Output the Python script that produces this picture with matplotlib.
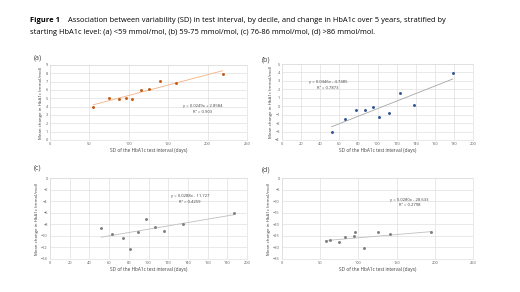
import numpy as np
import matplotlib
matplotlib.use("Agg")
import matplotlib.pyplot as plt

plt.rcParams['font.family'] = ['Open Sans', 'DejaVu Sans']

# panel (a) <59 mmol/mol
a_x = [55, 75, 87, 96, 104, 115, 125, 139, 160, 219]
a_y = [3.9, 5.0, 4.95, 5.05, 4.95, 6.0, 6.1, 7.05, 6.85, 7.95]
# panel (b) 59-75
b_x = [52, 66, 77, 87, 95, 102, 112, 124, 138, 179]
b_y = [-3.0, -1.5, -0.45, -0.4, -0.1, -1.25, -0.8, 1.6, 0.1, 3.9]
# panel (c) 76-86
c_x = [52, 63, 74, 81, 89, 97, 107, 116, 135, 187]
c_y = [-8.7, -9.6, -10.3, -12.3, -9.4, -7.1, -8.5, -9.1, -7.9, -6.1]
# panel (d) >86
d_x = [57, 63, 74, 83, 94, 96, 107, 125, 141, 195]
d_y = [-27.3, -26.9, -27.5, -25.6, -25.2, -23.2, -30.2, -23.4, -24.2, -23.4]

fits = {"a": (0.0249, 2.8584, "y = 0.0249x + 2.8584", "R\u00b2 = 0.903"),
        "b": (0.0446, -4.7485, "y = 0.0446x - 4.7485", "R\u00b2 = 0.7873"),
        "c": (0.0288, -11.727, "y = 0.0288x - 11.727", "R\u00b2 = 0.4259"),
        "d": (0.0280, -28.633, "y = 0.0280x - 28.633", "R\u00b2 = 0.2798")}

W, H = 520, 292
fig = plt.figure(figsize=(W / 100, H / 100), dpi=100)


def box(l, t, r, b):
    return [l / W, 1 - b / H, (r - l) / W, (b - t) / H]


panels = [
    ("a", a_x, a_y, box(50, 65, 247, 140), (0, 250, 50), (0, 9, 1), "#c55a11", "#f4b183", (194, 4.1, 3.4), (34, 58)),
    ("b", b_x, b_y, box(282, 64, 473, 140), (0, 200, 20), (-4, 5, 1), "#2f5597", "#a6a6a6", (48, 2.9, 2.1), (262, 60)),
    ("c", c_x, c_y, box(50, 178, 247, 259), (0, 200, 20), (-14, 0, 2), "#7f7f7f", "#bfbfbf", (142, -3.1, -4.2), (34, 168)),
    ("d", d_x, d_y, box(282, 178, 473, 259), (0, 250, 50), (-35, 0, 5), "#7f7f7f", "#bfbfbf", (167, -9.5, -11.8), (262, 170)),
]

for key, xs, ys, rect, xr, yr, mc, lc, tpos, lab in panels:
    ax = fig.add_axes(rect)
    xs = np.array(xs)
    m, c, eq, r2 = fits[key]
    xl = np.array([xs.min(), xs.max()])
    ax.plot(xl, m * xl + c, color=lc, lw=0.6, zorder=2)
    ax.scatter(xs, ys, s=4.5, color=mc, zorder=3, linewidths=0)
    ax.set_xlim(xr[0], xr[1])
    ax.set_ylim(yr[0], yr[1])
    ax.set_xticks(np.arange(xr[0], xr[1] + 1, xr[2]))
    ax.set_yticks(np.arange(yr[0], yr[1] + 0.1, yr[2]))
    ax.grid(True, color="#d9d9d9", lw=0.4)
    ax.set_axisbelow(True)
    for s in ax.spines.values():
        s.set_color("#d9d9d9")
        s.set_linewidth(0.4)
    ax.tick_params(length=0, labelsize=2.8, colors="#595959", pad=1.5)
    ax.set_xlabel("SD of the HbA1c test interval (days)", fontsize=3.4, color="#404040", labelpad=1.5)
    ax.set_ylabel("Mean change in HbA1c (mmol/mol)", fontsize=3.2, color="#404040", labelpad=1.5)
    ax.text(tpos[0], tpos[1], eq, fontsize=3.0, ha="center", va="center", color="#404040")
    ax.text(tpos[0], tpos[2], r2, fontsize=3.0, ha="center", va="center", color="#404040")
    fig.text(lab[0] / W, 1 - lab[1] / H, f"({key})", fontsize=5, color="#404040", va="center")

fig.text(30 / W, 1 - 21 / H, "Figure 1", fontsize=5.4, fontweight="bold", va="center")
fig.text(68 / W, 1 - 21 / H,
         "Association between variability (SD) in test interval, by decile, and change in HbA1c over 5 years, stratified by",
         fontsize=5.4, va="center")
fig.text(30 / W, 1 - 32 / H,
         "starting HbA1c level: (a) <59 mmol/mol, (b) 59-75 mmol/mol, (c) 76-86 mmol/mol, (d) >86 mmol/mol.",
         fontsize=5.4, va="center")

fig.savefig("out.png", dpi=100)
